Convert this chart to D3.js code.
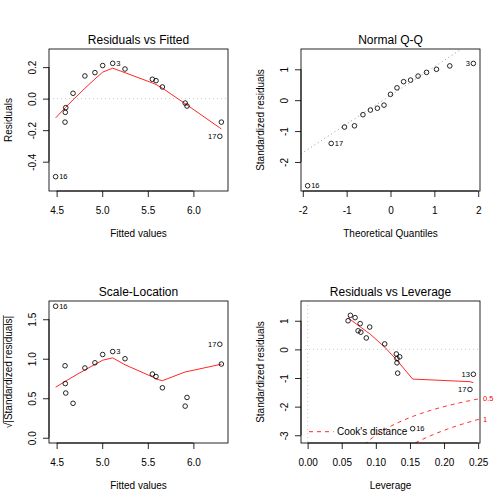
<!DOCTYPE html>
<html>
<head>
<meta charset="utf-8">
<script src="https://cdn.jsdelivr.net/npm/d3@7"></script>
<style>
  body { margin: 0; background: #fff; }
  svg { display: block; }
  text { font-family: "Liberation Sans", Arial, Helvetica, sans-serif; fill: #000; }
</style>
</head>
<body>
<div id="chart"></div>
<script>
const obsId     = [16, 1, 2, 4, 5, 6, 7, 8, 3, 9, 10, 11, 12, 14, 15, 13, 17];
const fitted    = [4.489, 4.592, 4.595, 4.600, 4.680, 4.810, 4.920, 5.005, 5.115, 5.250, 5.550, 5.590, 5.660, 5.910, 5.930, 6.307, 6.290];
const residuals = [-0.495, -0.149, -0.087, -0.057, 0.034, 0.144, 0.165, 0.210, 0.224, 0.188, 0.123, 0.114, 0.074, -0.028, -0.047, -0.149, -0.239];
const stdResid  = [-2.77, -0.83, -0.47, -0.32, 0.19, 0.78, 0.90, 1.11, 1.19, 1.00, 0.65, 0.60, 0.40, -0.16, -0.26, -0.87, -1.40];
const leverage  = [0.154, 0.132, 0.131, 0.131, 0.113, 0.091, 0.077, 0.0696, 0.0627, 0.0593, 0.074, 0.078, 0.086, 0.130, 0.135, 0.243, 0.238];

// normal quantiles for 17 points (qnorm(ppoints(17)))
const theoQuant = [-1.890, -1.352, -1.049, -0.821, -0.629, -0.458, -0.299, -0.148, 0,
                   0.148, 0.299, 0.458, 0.629, 0.821, 1.049, 1.352, 1.890];

// labelled observations
const idsResid = [16, 17, 3];
const idsCook = [16, 17, 13];
const cookLevels = [0.5, 1];
const nParams = 2;

// tick values
const fittedTicks = [4.5, 5.0, 5.5, 6.0];
const residTicks = [-0.4, -0.2, 0.0, 0.2];
const qqXTicks = [-2, -1, 0, 1, 2];
const qqYTicks = [-2, -1, 0, 1];
const slYTicks = [0.0, 0.5, 1.0, 1.5];
const levXTicks = [0.00, 0.05, 0.10, 0.15, 0.20, 0.25];
const levYTicks = [-3, -2, -1, 0, 1];

const P = 252;
const mar = {left: 49, right: 24, top: 49, bottom: 61};
const RED = "#FF0000", GRAY = "#BEBEBE", GRAY50 = "#7F7F7F";
const LW = 0.85;

const svg = d3.select("#chart").append("svg")
    .attr("width", 504)
    .attr("height", 504);

// R style axis padding
const pad4 = ([a, b]) => [a - 0.04 * (b - a), b + 0.04 * (b - a)];
const ext8 = ([a, b]) => [a - 0.08 * (b - a), b + 0.08 * (b - a)];

// port of R's clowess (f = 2/3, iter = 3)
function lowess(xIn, yIn, f = 2 / 3, nsteps = 3) {
    let order = d3.range(xIn.length).sort((a, b) => xIn[a] - xIn[b]);
    let x = order.map(i => xIn[i]), y = order.map(i => yIn[i]);
    let n = x.length;
    let delta = 0.01 * (x[n - 1] - x[0]);
    let ns = Math.max(2, Math.min(n, Math.floor(f * n + 1e-7)));
    let ys = new Array(n).fill(0), rw = new Array(n).fill(1), res = new Array(n).fill(0);

    function lowest(xs, nleft, nright, userw) {
        let range = x[n - 1] - x[0];
        let h = Math.max(xs - x[nleft], x[nright] - xs);
        let h9 = 0.999 * h, h1 = 0.001 * h;
        let w = new Array(n).fill(0);
        let a = 0, j = nleft;
        while (j < n) {
            w[j] = 0;
            let r = Math.abs(x[j] - xs);
            if (r <= h9) {
                w[j] = r <= h1 ? 1 : Math.pow(1 - Math.pow(r / h, 3), 3);
                if (userw) w[j] *= rw[j];
                a += w[j];
            } else if (x[j] > xs) break;
            j++;
        }
        let nrt = j - 1;
        if (a <= 0) return null;
        for (j = nleft; j <= nrt; j++) w[j] /= a;
        if (h > 0) {
            a = 0;
            for (j = nleft; j <= nrt; j++) a += w[j] * x[j];
            let b = xs - a, c = 0;
            for (j = nleft; j <= nrt; j++) c += w[j] * (x[j] - a) * (x[j] - a);
            if (Math.sqrt(c) > 0.001 * range) {
                b /= c;
                for (j = nleft; j <= nrt; j++) w[j] *= (b * (x[j] - a) + 1);
            }
        }
        let v = 0;
        for (j = nleft; j <= nrt; j++) v += w[j] * y[j];
        return v;
    }

    for (let iter = 1; iter <= nsteps + 1; iter++) {
        let nleft = 0, nright = ns - 1, last = -1, i = 0;
        for (;;) {
            if (nright < n - 1) {
                let d1 = x[i] - x[nleft], d2 = x[nright + 1] - x[i];
                if (d1 > d2) { nleft++; nright++; continue; }
            }
            let v = lowest(x[i], nleft, nright, iter > 1);
            ys[i] = v === null ? y[i] : v;
            if (last < i - 1) {
                let denom = x[i] - x[last];
                for (let j = last + 1; j < i; j++) {
                    let alpha = (x[j] - x[last]) / denom;
                    ys[j] = alpha * ys[i] + (1 - alpha) * ys[last];
                }
            }
            last = i;
            let cut = x[last] + delta;
            for (i = last + 1; i < n; i++) {
                if (x[i] > cut) break;
                if (x[i] === x[last]) { ys[i] = ys[last]; last = i; }
            }
            i = Math.max(last + 1, i - 1);
            if (last >= n - 1) break;
        }
        for (let k = 0; k < n; k++) res[k] = y[k] - ys[k];
        if (iter > nsteps) break;
        let absr = res.map(Math.abs);
        let sorted = absr.slice().sort((a, b) => a - b);
        let m1 = Math.floor(n / 2);
        let cmad = n % 2 === 0 ? 3 * (sorted[m1] + sorted[n - m1 - 1]) : 6 * sorted[m1];
        if (cmad < 1e-7 * d3.mean(absr)) break;
        let c9 = 0.999 * cmad, c1 = 0.001 * cmad;
        for (let k = 0; k < n; k++) {
            let r = absr[k];
            rw[k] = r <= c1 ? 1 : r <= c9 ? Math.pow(1 - (r / cmad) * (r / cmad), 2) : 0;
        }
    }
    return x.map((xv, k) => [xv, ys[k]]);
}

// one panel: frame, axes, titles
function panel(col, row, xDom, yDom, opt) {
    let g = svg.append("g").attr("transform", `translate(${col * P},${row * P})`);
    let x = d3.scaleLinear().domain(xDom).range([mar.left, P - mar.right]);
    let y = d3.scaleLinear().domain(yDom).range([P - mar.bottom, mar.top]);
    let clipId = `clip${col}${row}`;
    g.append("clipPath").attr("id", clipId).append("rect")
        .attr("x", mar.left).attr("y", mar.top)
        .attr("width", P - mar.left - mar.right)
        .attr("height", P - mar.top - mar.bottom);

    let plot = g.append("g").attr("clip-path", `url(#${clipId})`);

    // frame
    g.append("rect")
        .attr("x", mar.left).attr("y", mar.top)
        .attr("width", P - mar.left - mar.right)
        .attr("height", P - mar.top - mar.bottom)
        .attr("fill", "none").attr("stroke", "#000").attr("stroke-width", LW);

    // x axis
    let xa = g.append("g")
        .attr("transform", `translate(0,${P - mar.bottom})`)
        .call(d3.axisBottom(x).tickValues(opt.xTicks).tickFormat(opt.fx)
            .tickSize(6).tickSizeOuter(0).tickPadding(9.5));
    xa.select(".domain").remove();
    xa.append("line")
        .attr("x1", x(opt.xTicks[0])).attr("x2", x(opt.xTicks[opt.xTicks.length - 1]))
        .attr("stroke", "#000").attr("stroke-width", LW);

    // y axis, labels parallel to the axis
    let ya = g.append("g")
        .attr("transform", `translate(${mar.left},0)`)
        .call(d3.axisLeft(y).tickValues(opt.yTicks).tickFormat(opt.fy)
            .tickSize(6).tickSizeOuter(0));
    ya.select(".domain").remove();
    ya.append("line")
        .attr("y1", y(opt.yTicks[0])).attr("y2", y(opt.yTicks[opt.yTicks.length - 1]))
        .attr("stroke", "#000").attr("stroke-width", LW);
    ya.selectAll(".tick text")
        .attr("x", 0).attr("y", -13).attr("dy", null)
        .attr("text-anchor", "middle")
        .attr("transform", "rotate(-90)");

    [xa, ya].forEach(a => {
        a.attr("font-family", null).attr("font-size", null);
        a.selectAll(".tick line").attr("stroke", "#000").attr("stroke-width", LW);
        a.selectAll(".tick text").style("font-size", "10px");
    });

    // title
    g.append("text")
        .attr("x", (mar.left + P - mar.right) / 2)
        .attr("y", mar.top - 5.5)
        .attr("text-anchor", "middle")
        .style("font-size", "12px")
        .text(opt.title);

    g.append("text")
        .attr("x", (mar.left + P - mar.right) / 2)
        .attr("y", P - mar.bottom + 46)
        .attr("text-anchor", "middle")
        .style("font-size", "10px")
        .text(opt.xlab);

    let ylab = g.append("text")
        .attr("transform", `translate(${mar.left - 37},${(mar.top + P - mar.bottom) / 2}) rotate(-90)`)
        .attr("text-anchor", "middle")
        .style("font-size", "10px")
        .text(opt.ylab);

    return {g, plot, x, y, ylab};
}

function drawPoints(p, xs, ys) {
    p.g.append("g").selectAll("circle")
        .data(xs.map((d, i) => [d, ys[i]]))
        .join("circle")
        .attr("cx", d => p.x(d[0]))
        .attr("cy", d => p.y(d[1]))
        .attr("r", 2.3)
        .attr("fill", "none")
        .attr("stroke", "#000")
        .attr("stroke-width", LW);
}

function drawSmooth(p, xs, ys) {
    p.plot.append("path")
        .datum(lowess(xs, ys))
        .attr("d", d3.line().x(d => p.x(d[0])).y(d => p.y(d[1])))
        .attr("fill", "none")
        .attr("stroke", RED)
        .attr("stroke-width", LW);
}

// id labels: right of the point in the left half, left of it otherwise
function drawIds(p, xs, ys, ids) {
    let shown = ids.map(id => obsId.indexOf(id));
    let mid = d3.mean(d3.extent(shown.map(i => xs[i])));
    p.g.append("g").selectAll("text")
        .data(shown)
        .join("text")
        .attr("x", i => p.x(xs[i]) + (xs[i] > mid ? -3.5 : 3.5))
        .attr("y", i => p.y(ys[i]))
        .attr("dy", "0.35em")
        .attr("text-anchor", i => xs[i] > mid ? "end" : "start")
        .style("font-size", "7.5px")
        .text(i => obsId[i]);
}

function hline(p, v, color) {
    p.plot.append("line")
        .attr("x1", mar.left).attr("x2", P - mar.right)
        .attr("y1", p.y(v)).attr("y2", p.y(v))
        .attr("stroke", color).attr("stroke-width", LW)
        .attr("stroke-dasharray", "1,3");
}

const f1 = d => d.toFixed(1), f0 = d => d.toFixed(0), f2 = d => d.toFixed(2);

// 1. Residuals vs Fitted
let p1 = panel(0, 0, pad4(d3.extent(fitted)), pad4(ext8(d3.extent(residuals))), {
    xTicks: fittedTicks, yTicks: residTicks, fx: f1, fy: f1,
    title: "Residuals vs Fitted", xlab: "Fitted values", ylab: "Residuals"
});
hline(p1, 0, GRAY);
drawPoints(p1, fitted, residuals);
drawSmooth(p1, fitted, residuals);
drawIds(p1, fitted, residuals, idsResid);

// 2. Normal Q-Q
let qqOrder = d3.range(stdResid.length).sort((a, b) => stdResid[a] - stdResid[b]);
let qqX = new Array(stdResid.length);
qqOrder.forEach((idx, k) => { qqX[idx] = theoQuant[k]; });
let rsExt = d3.extent(stdResid);
let p2 = panel(1, 0, pad4(d3.extent(theoQuant)),
    pad4([rsExt[0], rsExt[1] + 0.075 * (rsExt[1] - rsExt[0])]), {
    xTicks: qqXTicks, yTicks: qqYTicks, fx: f0, fy: f0,
    title: "Normal Q-Q", xlab: "Theoretical Quantiles", ylab: "Standardized residuals"
});
// qqline through the quartiles
let sortedRs = stdResid.slice().sort(d3.ascending);
let yq = [d3.quantile(sortedRs, 0.25), d3.quantile(sortedRs, 0.75)];
let zq = 0.6744898;
let slope = (yq[1] - yq[0]) / (2 * zq), icpt = yq[0] + zq * slope;
let xd = p2.x.domain();
p2.plot.append("line")
    .attr("x1", p2.x(xd[0])).attr("y1", p2.y(icpt + slope * xd[0]))
    .attr("x2", p2.x(xd[1])).attr("y2", p2.y(icpt + slope * xd[1]))
    .attr("stroke", GRAY50).attr("stroke-width", LW)
    .attr("stroke-dasharray", "1,3");
drawPoints(p2, qqX, stdResid);
drawIds(p2, qqX, stdResid, idsResid);

// 3. Scale-Location
let sqrtAbs = stdResid.map(d => Math.sqrt(Math.abs(d)));
let p3 = panel(0, 1, pad4(d3.extent(fitted)), pad4([0, d3.max(sqrtAbs)]), {
    xTicks: fittedTicks, yTicks: slYTicks, fx: f1, fy: f1,
    title: "Scale-Location", xlab: "Fitted values", ylab: "\u221A|Standardized residuals|"
});
// overbar of the radical
{
    let node = p3.ylab.node();
    let total = node.getComputedTextLength();
    let rad = node.getSubStringLength(0, 1);
    let t = p3.ylab.attr("transform");
    p3.g.append("line")
        .attr("transform", t)
        .attr("x1", -total / 2 + rad - 0.5).attr("x2", total / 2 + 0.5)
        .attr("y1", -8.6).attr("y2", -8.6)
        .attr("stroke", "#000").attr("stroke-width", 0.7);
}
drawPoints(p3, fitted, sqrtAbs);
drawSmooth(p3, fitted, sqrtAbs);
drawIds(p3, fitted, sqrtAbs, idsResid);

// 4. Residuals vs Leverage
let p4 = panel(1, 1, pad4([0, d3.max(leverage)]), pad4(ext8(d3.extent(stdResid))), {
    xTicks: levXTicks, yTicks: levYTicks, fx: f2, fy: f0,
    title: "Residuals vs Leverage", xlab: "Leverage", ylab: "Standardized residuals"
});
hline(p4, 0, GRAY);
p4.plot.append("line")
    .attr("x1", p4.x(0)).attr("x2", p4.x(0))
    .attr("y1", mar.top).attr("y2", P - mar.bottom)
    .attr("stroke", GRAY).attr("stroke-width", LW)
    .attr("stroke-dasharray", "1,3");
drawPoints(p4, leverage, stdResid);
drawSmooth(p4, leverage, stdResid);
drawIds(p4, leverage, stdResid, idsCook);

// Cook's distance contours
let hr = d3.extent(leverage);
let usrX = p4.x.domain();
let h0 = Math.min(hr[0], hr[1] / 100);
let hh = d3.range(101).map(k => h0 + (usrX[1] - h0) * k / 100);
cookLevels.forEach(c => {
    [1, -1].forEach(sgn => {
        p4.plot.append("path")
            .datum(hh.map(h => [h, sgn * Math.sqrt(c * nParams * (1 - h) / h)]))
            .attr("d", d3.line().x(d => p4.x(d[0])).y(d => p4.y(d[1])))
            .attr("fill", "none")
            .attr("stroke", RED).attr("stroke-width", LW)
            .attr("stroke-dasharray", "4,4");
    });
});
// labels on the right edge
let xmax = Math.min(0.99, usrX[1]);
let ymult = Math.sqrt(nParams * (1 - xmax) / xmax);
let yDom4 = p4.y.domain();
cookLevels.forEach(c => {
    [1, -1].forEach(sgn => {
        let v = sgn * Math.sqrt(c) * ymult;
        if (v < yDom4[0] || v > yDom4[1]) return;
        p4.g.append("text")
            .attr("x", P - mar.right + 3)
            .attr("y", p4.y(v))
            .attr("dy", "0.35em")
            .style("font-size", "7.5px")
            .style("fill", RED)
            .text(c);
    });
});
// legend
let lg = p4.g.append("g").attr("transform", `translate(${mar.left},${P - mar.bottom - 11.3})`);
lg.append("line")
    .attr("x1", 8).attr("x2", 32.7)
    .attr("stroke", RED).attr("stroke-width", LW)
    .attr("stroke-dasharray", "4,4");
lg.append("text")
    .attr("x", 36)
    .attr("dy", "0.35em")
    .style("font-size", "10px")
    .text("Cook's distance");
</script>
</body>
</html>
